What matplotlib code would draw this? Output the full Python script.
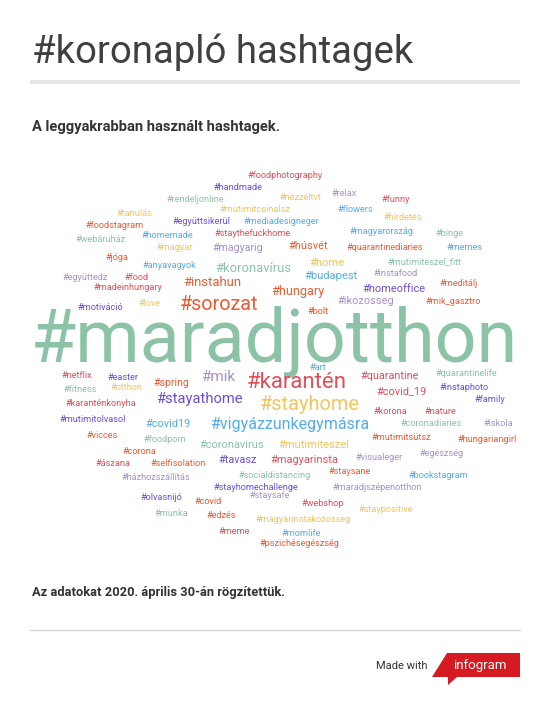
import matplotlib
matplotlib.use("Agg")
import matplotlib.pyplot as plt
from matplotlib.patches import Polygon, Rectangle

plt.rcParams['font.family'] = ['Roboto', 'DejaVu Sans']

# szavak es "sulyok" (betumeret pt-ben) a szofelhohoz
words = ['#maradjotthon', '#karantén', '#stayhome', '#sorozat', '#vigyázzunkegymásra',
         '#stayathome', '#mik', '#koronavírus', '#instahun', '#hungary', '#home',
         '#húsvét', '#budapest', '#homeoffice', '#ikozosseg', '#magyarig', '#covid19',
         '#coronavirus', '#mutimiteszel', '#tavasz', '#magyarinsta', '#quarantine',
         '#covid_19', '#spring',
         '#foodphotography', '#handmade', '#rendeljonline', '#nézzéltvt', '#relax',
         '#funny', '#tanulás', '#mutimitcsinalsz', '#flowers', '#hirdetés',
         '#foodstagram', '#együttsikerül', '#mediadesigneger', '#magyarország',
         '#binge', '#webáruház', '#homemade', '#staythefuckhome', '#magyar',
         '#quarantinediaries', '#memes', '#jóga', '#mutimiteszel_fitt', '#anyavagyok',
         '#együttedz', '#food', '#instafood', '#madeinhungary', '#meditálj',
         '#motiváció', '#love', '#mik_gasztro', '#bolt', '#art', '#netflix', '#easter',
         '#quarantinelife', '#fitness', '#otthon', '#instaphoto', '#family',
         '#karanténkonyha', '#korona', '#nature', '#mutimitolvasol', '#coronadiaries',
         '#iskola', '#vicces', '#mutimitsütsz', '#hungariangirl', '#foodporn',
         '#corona', '#egészség', '#visualeger', '#ászana', '#selfisolation',
         '#staysane', '#socialdistancing', '#bookstagram', '#házhozszállítás',
         '#stayhomechallenge', '#maradjszépenotthon', '#staysafe', '#olvasnijó',
         '#covid', '#webshop', '#staypositive', '#munka', '#edzés',
         '#magyarinstakozosseg', '#meme', '#momlife', '#pszichésegészség']

weights = [53, 16, 14.4, 14.2, 11.5, 10.6, 11, 9.4, 9.4, 9.2, 8, 7.9, 8, 7.9, 7.9,
           7.7, 7.9, 7.9, 8, 7.8, 7.9, 7.8, 7.9, 7.6] + [6.6] * 73

tones = ['G', 'R', 'Y', 'O', 'B', 'P', 'L', 'G', 'O', 'O', 'Y', 'O', 'B', 'P', 'L',
         'L', 'B', 'G', 'Y', 'P', 'R', 'R', 'R', 'O',
         'R', 'P', 'G', 'Y', 'L', 'R', 'Y', 'Y', 'B', 'Y', 'O', 'P', 'B', 'B', 'G',
         'G', 'B', 'R', 'Y', 'O', 'B', 'O', 'G', 'B', 'L', 'R', 'L', 'R', 'O', 'P',
         'Y', 'O', 'O', 'B', 'R', 'P', 'G', 'G', 'Y', 'P', 'P', 'R', 'R', 'R', 'P',
         'G', 'L', 'O', 'O', 'O', 'G', 'O', 'L', 'L', 'R', 'O', 'O', 'G', 'B', 'L',
         'P', 'L', 'L', 'P', 'O', 'R', 'Y', 'G', 'O', 'Y', 'R', 'B', 'O']

# elhelyezes (pixel, a kep bal felso sarkahoz kepest)
pos_x = [274, 297, 310, 219, 290, 199, 218, 253, 212, 298, 327, 308, 331, 394, 366,
         238, 168, 232, 314, 238, 304, 390, 401, 171,
         285, 238, 195, 300, 344, 396, 134, 255, 355, 403, 115, 201, 281, 381, 449,
         101, 167, 253, 175, 385, 465, 117, 424, 169, 85, 137, 396, 128, 459, 100,
         150, 453, 318, 318, 77, 123, 466, 80, 126, 464, 490, 101, 390, 440, 93,
         431, 498, 102, 401, 487, 165, 139, 442, 379, 113, 178, 350, 275, 438, 156,
         256, 377, 270, 161, 208, 323, 386, 171, 221, 303, 234, 301, 299]
pos_y = [342.5, 383, 405, 304, 424, 399, 377, 268, 283, 291, 263, 246, 276, 289, 301,
         248, 424, 445, 445, 460, 460, 376, 391, 383,
         175, 188, 199, 197, 193, 199, 213, 210, 210, 217, 225, 221, 221, 232, 234,
         240, 236, 233, 247, 248, 248, 258, 262, 266, 277, 277, 274, 288, 284, 307,
         303, 301, 312, 367, 375, 377, 373, 390, 388, 388, 399, 404, 411, 411, 420,
         423, 423, 435, 438, 439, 440, 452, 453, 457, 463, 463, 472, 476, 476, 478,
         487, 487, 496, 497, 502, 504, 509, 514, 515, 520, 531, 533, 543]

palette = {'G': '#8cc3a6', 'R': '#e0505a', 'O': '#ef5a30', 'Y': '#f2c55e',
           'B': '#55acea', 'P': '#6b4ee0', 'L': '#a792cc'}

fig = plt.figure(figsize=(5.5, 7.08), dpi=100)
ax = fig.add_axes([0, 0, 1, 1])
ax.set_xlim(0, 550)
ax.set_ylim(708, 0)
ax.axis('off')

# cim
ax.text(32, 63, '#koronapló hashtagek', fontsize=27.6, color='#404040',
        ha='left', va='baseline')
ax.add_patch(Rectangle((30, 80), 490, 4.3, color='#e6e6e6', lw=0))
ax.text(32, 131, 'A leggyakrabban használt hashtagek.', fontsize=10.6,
        fontweight='bold', color='#333333', ha='left', va='baseline')

# szofelho
for w, s, t, x, y in zip(words, weights, tones, pos_x, pos_y):
    ax.text(x, y, w, fontsize=s, color=palette[t], ha='center', va='center')

# labjegyzet
ax.text(32, 596, 'Az adatokat 2020. április 30-án rögzítettük.', fontsize=9.3,
        fontweight='bold', color='#333333', ha='left', va='baseline')
ax.plot([30, 520], [630, 630], color='#d9d9d9', lw=1)
ax.text(427, 669, 'Made with', fontsize=8, color='#333333', ha='right', va='baseline')
ax.add_patch(Polygon([(432, 677), (447, 653), (520, 653), (520, 677),
                      (457, 677), (448, 685), (448, 677)],
                     closed=True, color='#d51a21', lw=0))
ax.text(480, 669, 'infogram', fontsize=9.5, color='white', ha='center', va='baseline')

fig.savefig('out.png', dpi=100)
